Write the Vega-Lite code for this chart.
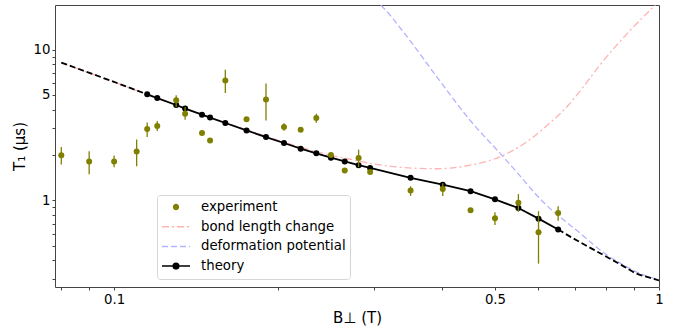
{
  "$schema": "https://vega.github.io/schema/vega-lite/v6.json",
  "width": 604,
  "height": 282,
  "autosize": {"type": "none"},
  "padding": {"left": 55, "top": 5, "right": 20, "bottom": 42},
  "background": "white",
  "config": {
    "view": {"stroke": "#444", "strokeWidth": 1},
    "font": "DejaVu Sans",
    "axis": {
      "labelFont": "DejaVu Sans",
      "labelFontSize": 13.3,
      "labelColor": "#000",
      "tickColor": "#444",
      "tickWidth": 1,
      "titleFont": "DejaVu Sans",
      "titleFontSize": 15,
      "titleFontWeight": "normal",
      "titleColor": "#000",
      "grid": false,
      "domain": false,
      "labelPadding": 2,
      "labelFlush": false,
      "labelOverlap": false
    }
  },
  "datasets": {
    "exp": [
      {"x": 0.08, "y": 1.99, "lo": 1.73, "hi": 2.26, "series": "experiment"},
      {"x": 0.09, "y": 1.81, "lo": 1.49, "hi": 2.12, "series": "experiment"},
      {"x": 0.1, "y": 1.81, "lo": 1.66, "hi": 1.98, "series": "experiment"},
      {"x": 0.11, "y": 2.11, "lo": 1.68, "hi": 2.53, "series": "experiment"},
      {"x": 0.115, "y": 2.97, "lo": 2.63, "hi": 3.29, "series": "experiment"},
      {"x": 0.12, "y": 3.11, "lo": 2.88, "hi": 3.36, "series": "experiment"},
      {"x": 0.13, "y": 4.61, "lo": 4.16, "hi": 4.97, "series": "experiment"},
      {"x": 0.135, "y": 3.75, "lo": 3.43, "hi": 4.16, "series": "experiment"},
      {"x": 0.145, "y": 2.8, "lo": 2.7, "hi": 2.9, "series": "experiment"},
      {"x": 0.15, "y": 2.49, "lo": 2.4, "hi": 2.58, "series": "experiment"},
      {"x": 0.16, "y": 6.23, "lo": 5.15, "hi": 7.36, "series": "experiment"},
      {"x": 0.175, "y": 3.45, "lo": 3.33, "hi": 3.57, "series": "experiment"},
      {"x": 0.19, "y": 4.66, "lo": 3.39, "hi": 5.96, "series": "experiment"},
      {"x": 0.205, "y": 3.07, "lo": 2.9, "hi": 3.25, "series": "experiment"},
      {"x": 0.22, "y": 2.94, "lo": 2.85, "hi": 3.03, "series": "experiment"},
      {"x": 0.235, "y": 3.52, "lo": 3.27, "hi": 3.76, "series": "experiment"},
      {"x": 0.25, "y": 2.0, "lo": 1.92, "hi": 2.08, "series": "experiment"},
      {"x": 0.265, "y": 1.58, "lo": 1.53, "hi": 1.63, "series": "experiment"},
      {"x": 0.281, "y": 1.91, "lo": 1.66, "hi": 2.17, "series": "experiment"},
      {"x": 0.295, "y": 1.54, "lo": 1.49, "hi": 1.59, "series": "experiment"},
      {"x": 0.35, "y": 1.16, "lo": 1.07, "hi": 1.24, "series": "experiment"},
      {"x": 0.401, "y": 1.19, "lo": 1.07, "hi": 1.3, "series": "experiment"},
      {"x": 0.451, "y": 0.858, "lo": 0.83, "hi": 0.89, "series": "experiment"},
      {"x": 0.5, "y": 0.76, "lo": 0.686, "hi": 0.832, "series": "experiment"},
      {"x": 0.552, "y": 0.965, "lo": 0.84, "hi": 1.1, "series": "experiment"},
      {"x": 0.601, "y": 0.613, "lo": 0.38, "hi": 0.847, "series": "experiment"},
      {"x": 0.653, "y": 0.824, "lo": 0.733, "hi": 0.912, "series": "experiment"}
    ],
    "theory": [
      {"x": 0.115, "y": 5.05, "series": "theory"},
      {"x": 0.12, "y": 4.77, "series": "theory"},
      {"x": 0.13, "y": 4.29, "series": "theory"},
      {"x": 0.135, "y": 4.06, "series": "theory"},
      {"x": 0.145, "y": 3.7, "series": "theory"},
      {"x": 0.15, "y": 3.54, "series": "theory"},
      {"x": 0.16, "y": 3.26, "series": "theory"},
      {"x": 0.175, "y": 2.91, "series": "theory"},
      {"x": 0.19, "y": 2.63, "series": "theory"},
      {"x": 0.205, "y": 2.4, "series": "theory"},
      {"x": 0.22, "y": 2.2, "series": "theory"},
      {"x": 0.235, "y": 2.05, "series": "theory"},
      {"x": 0.25, "y": 1.92, "series": "theory"},
      {"x": 0.265, "y": 1.81, "series": "theory"},
      {"x": 0.281, "y": 1.71, "series": "theory"},
      {"x": 0.295, "y": 1.64, "series": "theory"},
      {"x": 0.35, "y": 1.41, "series": "theory"},
      {"x": 0.401, "y": 1.27, "series": "theory"},
      {"x": 0.451, "y": 1.15, "series": "theory"},
      {"x": 0.5, "y": 1.015, "series": "theory"},
      {"x": 0.552, "y": 0.889, "series": "theory"},
      {"x": 0.601, "y": 0.756, "series": "theory"},
      {"x": 0.653, "y": 0.64, "series": "theory"}
    ],
    "extension": [
      {"x": 0.08, "y": 8.2, "seg": "left"},
      {"x": 0.1, "y": 6.1, "seg": "left"},
      {"x": 0.115, "y": 5.05, "seg": "left"},
      {"x": 0.653, "y": 0.64, "seg": "right"},
      {"x": 0.706, "y": 0.543, "seg": "right"},
      {"x": 0.76, "y": 0.469, "seg": "right"},
      {"x": 0.813, "y": 0.41, "seg": "right"},
      {"x": 0.86, "y": 0.366, "seg": "right"},
      {"x": 0.91, "y": 0.326, "seg": "right"},
      {"x": 0.955, "y": 0.309, "seg": "right"},
      {"x": 1.0, "y": 0.294, "seg": "right"}
    ],
    "bond": [
      {"x": 0.08, "y": 8.2, "series": "bond length change"},
      {"x": 0.115, "y": 5.05, "series": "bond length change"},
      {"x": 0.15, "y": 3.56, "series": "bond length change"},
      {"x": 0.19, "y": 2.66, "series": "bond length change"},
      {"x": 0.22, "y": 2.25, "series": "bond length change"},
      {"x": 0.25, "y": 1.99, "series": "bond length change"},
      {"x": 0.27, "y": 1.88, "series": "bond length change"},
      {"x": 0.295, "y": 1.76, "series": "bond length change"},
      {"x": 0.34, "y": 1.65, "series": "bond length change"},
      {"x": 0.39, "y": 1.62, "series": "bond length change"},
      {"x": 0.45, "y": 1.71, "series": "bond length change"},
      {"x": 0.52, "y": 2.0, "series": "bond length change"},
      {"x": 0.588, "y": 2.63, "series": "bond length change"},
      {"x": 0.63, "y": 3.25, "series": "bond length change"},
      {"x": 0.677, "y": 4.16, "series": "bond length change"},
      {"x": 0.73, "y": 5.8, "series": "bond length change"},
      {"x": 0.779, "y": 7.9, "series": "bond length change"},
      {"x": 0.84, "y": 10.9, "series": "bond length change"},
      {"x": 0.897, "y": 14.1, "series": "bond length change"},
      {"x": 0.976, "y": 19.2, "series": "bond length change"},
      {"x": 1.0, "y": 21.0, "series": "bond length change"}
    ],
    "deform": [
      {"x": 0.3, "y": 21.5, "series": "deformation potential"},
      {"x": 0.311, "y": 19.2, "series": "deformation potential"},
      {"x": 0.3395, "y": 13.1, "series": "deformation potential"},
      {"x": 0.391, "y": 6.6, "series": "deformation potential"},
      {"x": 0.45, "y": 3.4, "series": "deformation potential"},
      {"x": 0.518, "y": 1.94, "series": "deformation potential"},
      {"x": 0.548, "y": 1.54, "series": "deformation potential"},
      {"x": 0.613, "y": 0.974, "series": "deformation potential"},
      {"x": 0.706, "y": 0.632, "series": "deformation potential"},
      {"x": 0.813, "y": 0.42, "series": "deformation potential"},
      {"x": 0.86, "y": 0.372, "series": "deformation potential"},
      {"x": 0.91, "y": 0.334, "series": "deformation potential"},
      {"x": 0.955, "y": 0.312, "series": "deformation potential"},
      {"x": 1.0, "y": 0.298, "series": "deformation potential"}
    ]
  },
  "encoding": {
    "x": {
      "field": "x",
      "type": "quantitative",
      "scale": {"type": "log", "domain": [0.0779, 1], "nice": false},
      "axis": {
        "title": "B⊥ (T)",
        "titlePadding": 5,
        "values": [0.08, 0.09, 0.1, 0.2, 0.3, 0.4, 0.5, 0.6, 0.7, 0.8, 0.9, 1],
        "labelExpr": "datum.value == 0.1 ? '0.1' : datum.value == 0.5 ? '0.5' : datum.value == 1 ? '1' : ''",
        "tickSize": 3
      }
    },
    "y": {
      "field": "y",
      "type": "quantitative",
      "scale": {"type": "log", "domain": [0.266, 19.77], "nice": false},
      "axis": {
        "title": "T₁ (μs)",
        "titlePadding": 6,
        "values": [0.3, 0.4, 0.5, 0.6, 0.7, 0.8, 0.9, 1, 2, 3, 4, 5, 6, 7, 8, 9, 10],
        "labelExpr": "datum.value == 1 ? '1' : datum.value == 5 ? '5' : datum.value == 10 ? '10' : ''",
        "tickSize": 3
      }
    }
  },
  "layer": [
    {
      "data": {"name": "bond"},
      "mark": {"type": "line", "strokeWidth": 1.3, "strokeDash": [7, 3, 2, 3], "interpolate": "monotone", "clip": true},
      "encoding": {
        "color": {
          "field": "series",
          "type": "nominal",
          "scale": {
            "domain": ["experiment", "bond length change", "deformation potential", "theory"],
            "range": ["#808000", "#ffb3b3", "#b3b3ff", "#000000"]
          },
          "legend": {
            "orient": "none",
            "legendX": 102,
            "legendY": 190,
            "title": null,
            "padding": 4,
            "fillColor": "rgba(255,255,255,0.85)",
            "strokeColor": "#d6d6d6",
            "cornerRadius": 3,
            "labelFont": "DejaVu Sans",
            "labelFontSize": 13.3,
            "labelColor": "#000",
            "labelOffset": 10,
            "symbolSize": 784,
            "clipHeight": 16,
            "rowPadding": 3.7,
            "encode": {
              "symbols": {
                "update": {
                  "shape": {"signal": "datum.value === 'experiment' ? 'M0.17,0A0.17,0.17,0,1,1,-0.17,0A0.17,0.17,0,1,1,0.17,0Z' : datum.value === 'theory' ? 'M-1,0L1,0M0.2,0A0.2,0.2,0,1,1,-0.2,0A0.2,0.2,0,1,1,0.2,0Z' : 'M-1,0L1,0'"},
                  "fill": {"signal": "datum.value === 'experiment' ? '#808000' : datum.value === 'theory' ? '#000000' : 'transparent'"},
                  "stroke": {"signal": "datum.value === 'experiment' ? 'transparent' : datum.value === 'theory' ? '#000000' : datum.value === 'bond length change' ? '#ffb3b3' : '#b3b3ff'"},
                  "strokeDash": {"signal": "datum.value === 'bond length change' ? [7,3,2,3] : datum.value === 'deformation potential' ? [6,3] : []"},
                  "strokeWidth": {"value": 1.5},
                  "size": {"value": 784},
                  "opacity": {"value": 1}
                }
              }
            }
          }
        }
      }
    },
    {
      "data": {"name": "deform"},
      "mark": {"type": "line", "strokeWidth": 1.3, "strokeDash": [6, 3], "interpolate": "monotone", "clip": true},
      "encoding": {"color": {"field": "series", "type": "nominal"}}
    },
    {
      "data": {"name": "extension"},
      "mark": {"type": "line", "strokeWidth": 1.8, "strokeDash": [6, 3], "color": "#000000", "interpolate": "monotone", "clip": true},
      "encoding": {"detail": {"field": "seg", "type": "nominal"}}
    },
    {
      "data": {"name": "theory"},
      "mark": {"type": "line", "strokeWidth": 1.8, "clip": true, "point": {"filled": true, "size": 36, "opacity": 1}},
      "encoding": {"color": {"field": "series", "type": "nominal"}}
    },
    {
      "data": {"name": "exp"},
      "mark": {"type": "rule", "strokeWidth": 1.3, "color": "#808000", "clip": true},
      "encoding": {
        "y": {"field": "lo", "type": "quantitative"},
        "y2": {"field": "hi"}
      }
    },
    {
      "data": {"name": "exp"},
      "mark": {"type": "point", "filled": true, "size": 36, "opacity": 1, "clip": true},
      "encoding": {"color": {"field": "series", "type": "nominal"}}
    }
  ]
}
